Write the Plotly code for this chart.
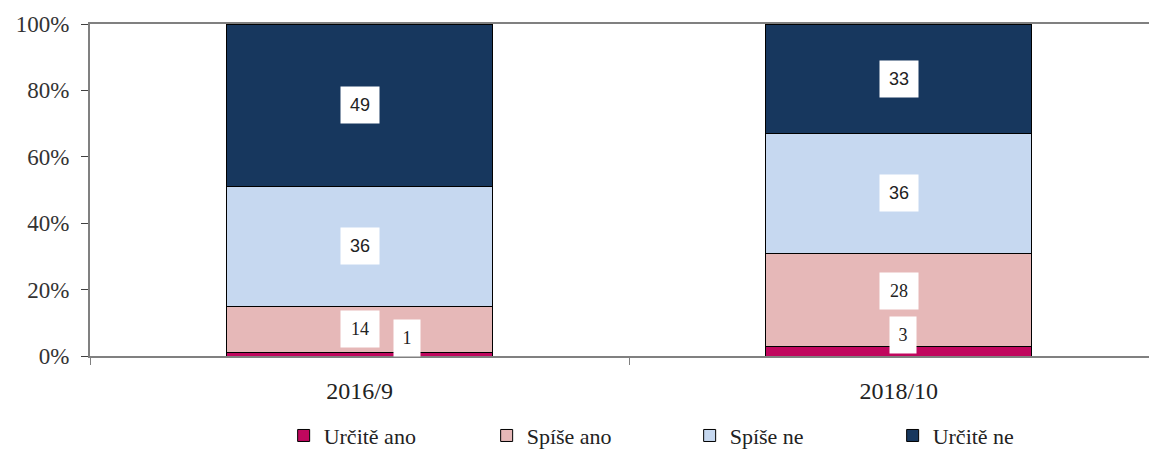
import plotly.graph_objects as go

categories = ["2016/9", "2018/10"]
series_names = ["Určitě ano", "Spíše ano", "Spíše ne", "Určitě ne"]
urcite_ano = [1, 3]
spise_ano = [14, 28]
spise_ne = [36, 36]
urcite_ne = [49, 33]
y_ticks = [0, 20, 40, 60, 80, 100]
y_tick_labels = ["0%", "20%", "40%", "60%", "80%", "100%"]

series_values = [urcite_ano, spise_ano, spise_ne, urcite_ne]
colors = ["#C0075E", "#E6B8B8", "#C6D8F0", "#17375E"]
label_fonts = ["Liberation Serif", "Liberation Serif", "Liberation Sans", "Liberation Sans"]
# label offsets (pixels) used to reproduce the original label placement
label_xshift = [[47, 4], [0, 0], [0, 0], [0, 0]]
label_yshift = [[16, 16], [0, 9], [0, 0], [0, 0]]

fig = go.Figure()
for name, vals, col in zip(series_names, series_values, colors):
    fig.add_trace(go.Bar(
        x=categories, y=vals, name=name,
        marker=dict(color=col, line=dict(color="#000000", width=1)),
        width=0.494,
    ))

annotations = []
cum = [0, 0]
for si, vals in enumerate(series_values):
    for ci, v in enumerate(vals):
        mid = cum[ci] + v / 2
        txt = str(v)
        annotations.append(dict(
            x=categories[ci], y=mid, text=txt, showarrow=False,
            xshift=label_xshift[si][ci], yshift=label_yshift[si][ci],
            bgcolor="#FFFFFF", borderpad=5,
            width=16 if len(txt) == 1 else 28, height=26,
            font=dict(family=label_fonts[si], size=18, color="#222222"),
        ))
        cum[ci] += v

fig.update_layout(
    barmode="stack",
    width=1149, height=442,
    font=dict(family="Liberation Serif", color="#222222"),
    margin=dict(l=82, r=0, t=16, b=94, autoexpand=False),
    paper_bgcolor="#FFFFFF", plot_bgcolor="#FFFFFF",
    annotations=annotations,
    showlegend=True,
    legend=dict(
        orientation="h", x=0.562, xanchor="center", y=-0.24, yanchor="middle",
        font=dict(family="Liberation Serif", size=22, color="#222222"),
        entrywidth=158, itemwidth=30, traceorder="normal",
    ),
    xaxis=dict(
        type="category", range=[-0.5, 1.479],
        showline=True, linecolor="#808080", linewidth=2, mirror=True,
        ticks="outside", tickson="boundaries", ticklen=7, tickcolor="#808080",
        tickfont=dict(family="Liberation Serif", size=24, color="#222222"),
        ticklabelstandoff=12,
        showgrid=False, zeroline=False,
    ),
    yaxis=dict(
        range=[0, 100], tickmode="array", tickvals=y_ticks, ticktext=y_tick_labels,
        showline=True, linecolor="#808080", linewidth=2,
        ticks="outside", ticklen=7, tickcolor="#404040",
        tickfont=dict(family="Liberation Serif", size=23, color="#333333"),
        ticklabelstandoff=7,
        showgrid=False, zeroline=False,
    ),
    bargap=0.5,
)

fig.write_html("out.html")
